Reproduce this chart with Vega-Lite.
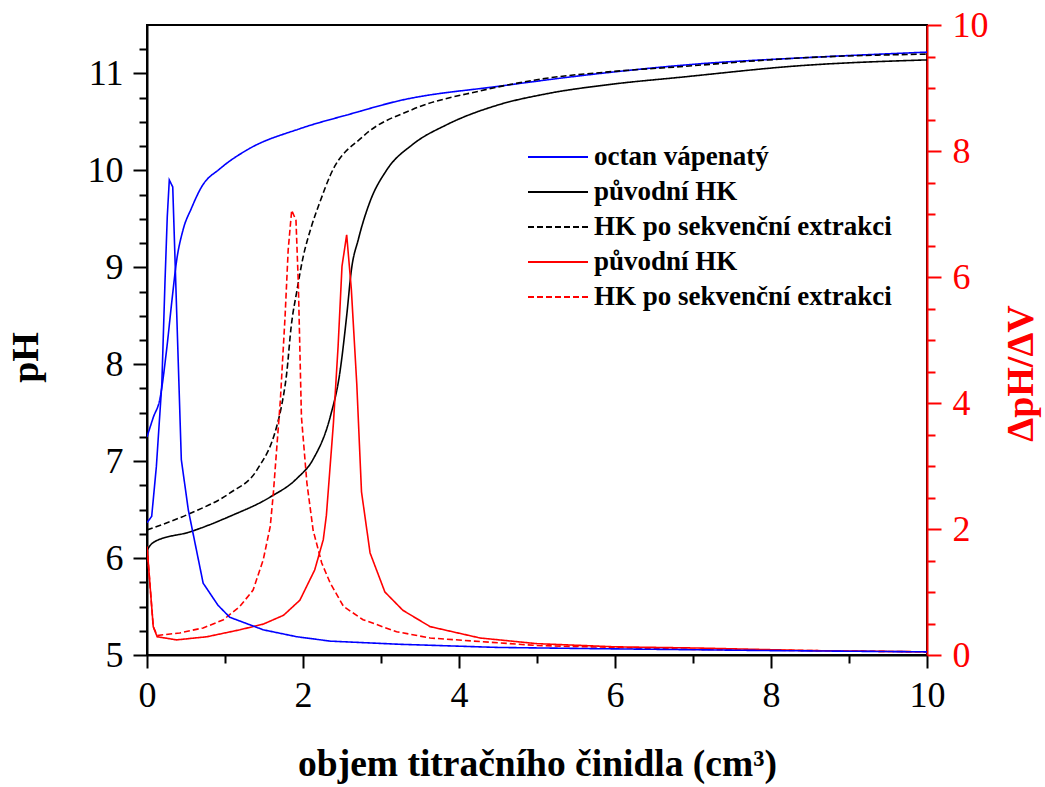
{
  "$schema": "https://vega.github.io/schema/vega-lite/v6.json",
  "width": 780,
  "height": 630,
  "autosize": {"type": "none"},
  "padding": {"left": 147, "top": 25, "right": 118, "bottom": 132},
  "background": "white",
  "config": {"view": {"stroke": "black", "strokeWidth": 2}, "font": "Liberation Serif"},
  "datasets": {
    "ph": [
      {"s": "A", "x": 0, "v": 7.25}, {"s": "A", "x": 0.08, "v": 7.45}, {"s": "A", "x": 0.17, "v": 7.66}, {"s": "A", "x": 0.25, "v": 8.14}, {"s": "A", "x": 0.32, "v": 8.66}, {"s": "A", "x": 0.38, "v": 9.07}, {"s": "A", "x": 0.46, "v": 9.38}, {"s": "A", "x": 0.57, "v": 9.61}, {"s": "A", "x": 0.7, "v": 9.83}, {"s": "A", "x": 0.94, "v": 10.02}, {"s": "A", "x": 1.28, "v": 10.21}, {"s": "A", "x": 1.96, "v": 10.43}, {"s": "A", "x": 2.6, "v": 10.58}, {"s": "A", "x": 3.24, "v": 10.72}, {"s": "A", "x": 4.53, "v": 10.87}, {"s": "A", "x": 5.81, "v": 11.0}, {"s": "A", "x": 7.09, "v": 11.1}, {"s": "A", "x": 8.37, "v": 11.16}, {"s": "A", "x": 10, "v": 11.22},
      {"s": "B", "x": 0, "v": 6.08}, {"s": "B", "x": 0.04, "v": 6.13}, {"s": "B", "x": 0.1, "v": 6.17}, {"s": "B", "x": 0.55, "v": 6.27}, {"s": "B", "x": 1.06, "v": 6.43}, {"s": "B", "x": 1.58, "v": 6.63}, {"s": "B", "x": 1.92, "v": 6.82}, {"s": "B", "x": 2.13, "v": 7.02}, {"s": "B", "x": 2.35, "v": 7.46}, {"s": "B", "x": 2.47, "v": 7.9}, {"s": "B", "x": 2.56, "v": 8.5}, {"s": "B", "x": 2.62, "v": 8.97}, {"s": "B", "x": 2.71, "v": 9.29}, {"s": "B", "x": 2.86, "v": 9.68}, {"s": "B", "x": 3.07, "v": 10.0}, {"s": "B", "x": 3.41, "v": 10.27}, {"s": "B", "x": 3.84, "v": 10.47}, {"s": "B", "x": 4.48, "v": 10.67}, {"s": "B", "x": 5.12, "v": 10.79}, {"s": "B", "x": 5.97, "v": 10.89}, {"s": "B", "x": 6.83, "v": 10.96}, {"s": "B", "x": 8.37, "v": 11.08}, {"s": "B", "x": 10, "v": 11.14},
      {"s": "C", "x": 0, "v": 6.29}, {"s": "C", "x": 0.55, "v": 6.46}, {"s": "C", "x": 1.06, "v": 6.67}, {"s": "C", "x": 1.41, "v": 6.91}, {"s": "C", "x": 1.66, "v": 7.35}, {"s": "C", "x": 1.72, "v": 7.55}, {"s": "C", "x": 1.79, "v": 7.9}, {"s": "C", "x": 1.85, "v": 8.4}, {"s": "C", "x": 1.92, "v": 8.75}, {"s": "C", "x": 2.0, "v": 9.1}, {"s": "C", "x": 2.1, "v": 9.4}, {"s": "C", "x": 2.22, "v": 9.68}, {"s": "C", "x": 2.35, "v": 9.95}, {"s": "C", "x": 2.77, "v": 10.35}, {"s": "C", "x": 3.41, "v": 10.63}, {"s": "C", "x": 4.27, "v": 10.82}, {"s": "C", "x": 5.12, "v": 10.95}, {"s": "C", "x": 5.97, "v": 11.02}, {"s": "C", "x": 6.83, "v": 11.07}, {"s": "C", "x": 8.37, "v": 11.16}, {"s": "C", "x": 10, "v": 11.2}
    ],
    "der": [
      {"s": "D", "x": 0, "v": 1.72}, {"s": "D", "x": 0.03, "v": 1.25}, {"s": "D", "x": 0.08, "v": 0.45}, {"s": "D", "x": 0.13, "v": 0.29}, {"s": "D", "x": 0.38, "v": 0.24}, {"s": "D", "x": 0.77, "v": 0.29}, {"s": "D", "x": 1.19, "v": 0.4}, {"s": "D", "x": 1.49, "v": 0.49}, {"s": "D", "x": 1.75, "v": 0.63}, {"s": "D", "x": 1.96, "v": 0.87}, {"s": "D", "x": 2.15, "v": 1.35}, {"s": "D", "x": 2.26, "v": 1.83}, {"s": "D", "x": 2.3, "v": 2.22}, {"s": "D", "x": 2.39, "v": 3.68}, {"s": "D", "x": 2.45, "v": 4.9}, {"s": "D", "x": 2.5, "v": 6.17}, {"s": "D", "x": 2.56, "v": 6.67}, {"s": "D", "x": 2.62, "v": 5.8}, {"s": "D", "x": 2.69, "v": 4.29}, {"s": "D", "x": 2.75, "v": 2.59}, {"s": "D", "x": 2.86, "v": 1.62}, {"s": "D", "x": 3.05, "v": 1.0}, {"s": "D", "x": 3.28, "v": 0.71}, {"s": "D", "x": 3.63, "v": 0.45}, {"s": "D", "x": 4.27, "v": 0.27}, {"s": "D", "x": 5, "v": 0.18}, {"s": "D", "x": 6, "v": 0.13}, {"s": "D", "x": 7.09, "v": 0.11}, {"s": "D", "x": 8.5, "v": 0.07}, {"s": "D", "x": 10, "v": 0.05},
      {"s": "E", "x": 0, "v": 1.72}, {"s": "E", "x": 0.03, "v": 1.25}, {"s": "E", "x": 0.08, "v": 0.45}, {"s": "E", "x": 0.13, "v": 0.31}, {"s": "E", "x": 0.42, "v": 0.35}, {"s": "E", "x": 0.72, "v": 0.43}, {"s": "E", "x": 0.98, "v": 0.56}, {"s": "E", "x": 1.19, "v": 0.77}, {"s": "E", "x": 1.36, "v": 1.03}, {"s": "E", "x": 1.49, "v": 1.51}, {"s": "E", "x": 1.58, "v": 2.04}, {"s": "E", "x": 1.62, "v": 2.57}, {"s": "E", "x": 1.71, "v": 4.05}, {"s": "E", "x": 1.77, "v": 5.37}, {"s": "E", "x": 1.81, "v": 6.43}, {"s": "E", "x": 1.855, "v": 7.06}, {"s": "E", "x": 1.91, "v": 6.9}, {"s": "E", "x": 1.94, "v": 5.9}, {"s": "E", "x": 1.98, "v": 3.78}, {"s": "E", "x": 2.05, "v": 2.73}, {"s": "E", "x": 2.13, "v": 1.98}, {"s": "E", "x": 2.24, "v": 1.46}, {"s": "E", "x": 2.35, "v": 1.14}, {"s": "E", "x": 2.52, "v": 0.77}, {"s": "E", "x": 2.77, "v": 0.56}, {"s": "E", "x": 3.2, "v": 0.37}, {"s": "E", "x": 3.63, "v": 0.27}, {"s": "E", "x": 5, "v": 0.15}, {"s": "E", "x": 7, "v": 0.09}, {"s": "E", "x": 10, "v": 0.05},
      {"s": "F", "x": 0, "v": 2.1}, {"s": "F", "x": 0.06, "v": 2.2}, {"s": "F", "x": 0.12, "v": 2.99}, {"s": "F", "x": 0.19, "v": 4.3}, {"s": "F", "x": 0.23, "v": 5.9}, {"s": "F", "x": 0.26, "v": 6.96}, {"s": "F", "x": 0.286, "v": 7.54}, {"s": "F", "x": 0.33, "v": 7.43}, {"s": "F", "x": 0.44, "v": 3.1}, {"s": "F", "x": 0.53, "v": 2.3}, {"s": "F", "x": 0.72, "v": 1.14}, {"s": "F", "x": 0.91, "v": 0.79}, {"s": "F", "x": 1.06, "v": 0.6}, {"s": "F", "x": 1.49, "v": 0.4}, {"s": "F", "x": 1.92, "v": 0.29}, {"s": "F", "x": 2.35, "v": 0.22}, {"s": "F", "x": 3.24, "v": 0.17}, {"s": "F", "x": 4.5, "v": 0.12}, {"s": "F", "x": 5.8, "v": 0.1}, {"s": "F", "x": 8, "v": 0.07}, {"s": "F", "x": 10, "v": 0.05}
    ]
  },
  "layer": [
    {
      "data": {"name": "ph"},
      "mark": {"type": "line", "strokeWidth": 1.6, "clip": true, "interpolate": "monotone"},
      "encoding": {
        "x": {
          "field": "x", "type": "quantitative",
          "scale": {"domain": [0, 10], "nice": false, "zero": false},
          "axis": {
            "title": "objem titračního činidla (cm³)",
            "values": [0, 0.5, 1, 1.5, 2, 2.5, 3, 3.5, 4, 4.5, 5, 5.5, 6, 6.5, 7, 7.5, 8, 8.5, 9, 9.5, 10],
            "labelExpr": "datum.value % 2 === 0 ? format(datum.value, 'd') : ''",
            "tickSize": {"condition": {"test": "datum.value % 2 === 0", "value": 13}, "value": 8},
            "tickColor": "black", "tickWidth": 2, "domainColor": "black", "domainWidth": 2,
            "labelFont": "Liberation Serif", "labelFontSize": 36, "labelColor": "black", "labelPadding": 10, "labelFlush": false, "labelOverlap": false, "labelBound": false,
            "titleFont": "Liberation Serif", "titleFontSize": 37.5, "titleFontWeight": "bold", "titleColor": "black", "titleY": 120, "titleBaseline": "alphabetic",
            "grid": false
          }
        },
        "y": {
          "field": "v", "type": "quantitative",
          "scale": {"domain": [5, 11.5], "nice": false, "zero": false},
          "axis": {
            "title": "pH",
            "values": [5, 5.25, 5.5, 5.75, 6, 6.25, 6.5, 6.75, 7, 7.25, 7.5, 7.75, 8, 8.25, 8.5, 8.75, 9, 9.25, 9.5, 9.75, 10, 10.25, 10.5, 10.75, 11, 11.25],
            "labelExpr": "datum.value % 1 === 0 ? format(datum.value, 'd') : ''",
            "tickSize": {"condition": {"test": "datum.value % 1 === 0", "value": 14}, "value": 8},
            "tickColor": "black", "tickWidth": 2, "domainColor": "black", "domainWidth": 2,
            "labelFont": "Liberation Serif", "labelFontSize": 36, "labelColor": "black", "labelPadding": 10, "labelFlush": false, "labelOverlap": false, "labelBound": false,
            "titleFont": "Liberation Serif", "titleFontSize": 38, "titleFontWeight": "bold", "titleColor": "black", "titleAngle": 270,
            "titleX": -110, "titleY": 332, "titleBaseline": "alphabetic", "titleAlign": "center",
            "grid": false
          }
        },
        "color": {
          "field": "s", "type": "nominal",
          "scale": {"domain": ["A", "B", "C", "D", "E", "F"], "range": ["#0000ff", "#000000", "#000000", "#ff0000", "#ff0000", "#0000ff"]},
          "legend": {
            "values": ["A", "B", "C", "D", "E"],
            "labelExpr": "datum.value === 'A' ? 'octan vápenatý' : (datum.value === 'B' || datum.value === 'D') ? 'původní HK' : 'HK po sekvenční extrakci'",
            "title": null, "orient": "none", "legendX": 380, "legendY": 116,
            "symbolType": "M-1,0H3", "symbolSize": 900, "symbolStrokeWidth": 2,
            "labelFontSize": 27, "labelFontWeight": "bold", "labelFont": "Liberation Serif", "labelColor": "black",
            "rowPadding": 6, "labelOffset": 35, "padding": 0, "labelLimit": 0
          }
        },
        "strokeDash": {
          "field": "s", "type": "nominal",
          "scale": {"domain": ["A", "B", "C", "D", "E", "F"], "range": [[1, 0], [1, 0], [6, 3], [1, 0], [6, 3], [1, 0]]},
          "legend": {
            "values": ["A", "B", "C", "D", "E"],
            "labelExpr": "datum.value === 'A' ? 'octan vápenatý' : (datum.value === 'B' || datum.value === 'D') ? 'původní HK' : 'HK po sekvenční extrakci'",
            "title": null, "orient": "none", "legendX": 380, "legendY": 116,
            "symbolType": "M-1,0H3", "symbolSize": 900, "symbolStrokeWidth": 2,
            "labelFontSize": 27, "labelFontWeight": "bold", "labelFont": "Liberation Serif", "labelColor": "black",
            "rowPadding": 6, "labelOffset": 35, "padding": 0, "labelLimit": 0
          }
        }
      }
    },
    {
      "data": {"name": "der"},
      "mark": {"type": "line", "strokeWidth": 1.6, "clip": true},
      "encoding": {
        "x": {"field": "x", "type": "quantitative", "scale": {"domain": [0, 10], "nice": false, "zero": false}},
        "y": {
          "field": "v", "type": "quantitative",
          "scale": {"domain": [0, 10], "nice": false, "zero": false},
          "axis": {
            "orient": "right",
            "title": "ΔpH/ΔV",
            "values": [0, 0.5, 1, 1.5, 2, 2.5, 3, 3.5, 4, 4.5, 5, 5.5, 6, 6.5, 7, 7.5, 8, 8.5, 9, 9.5, 10],
            "labelExpr": "datum.value % 2 === 0 ? format(datum.value, 'd') : ''",
            "tickSize": {"condition": {"test": "datum.value % 2 === 0", "value": 14}, "value": 8},
            "tickColor": "#ff0000", "tickWidth": 2, "domainColor": "#ff0000", "domainWidth": 2,
            "labelFont": "Liberation Serif", "labelFontSize": 36, "labelColor": "#ff0000", "labelPadding": 11, "labelFlush": false, "labelOverlap": false, "labelBound": false,
            "titleFont": "Liberation Serif", "titleFontSize": 38, "titleFontWeight": "bold", "titleColor": "#ff0000", "titleAngle": 270,
            "titleX": 105, "titleY": 348, "titleBaseline": "alphabetic", "titleAlign": "center",
            "grid": false
          }
        },
        "color": {"field": "s", "type": "nominal"},
        "strokeDash": {"field": "s", "type": "nominal"}
      }
    }
  ],
  "resolve": {"scale": {"y": "independent"}}
}
